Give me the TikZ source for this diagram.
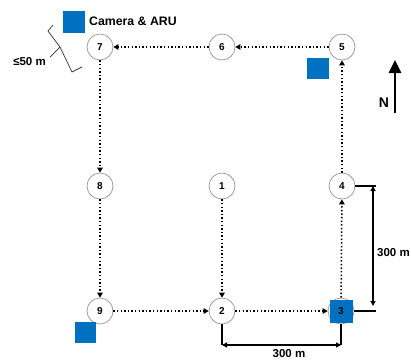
\documentclass[tikz,border=0pt]{standalone}
\usepackage{fontspec}
\setmainfont{Liberation Sans}
\usetikzlibrary{arrows.meta}
\definecolor{camblue}{RGB}{0,112,192}
\definecolor{ringgray}{RGB}{150,150,150}
\tikzset{
  site/.style={circle,draw=ringgray,line width=0.7pt,fill=white,minimum size=26pt,inner sep=0pt,font=\fontsize{10}{12}\selectfont\bfseries},
  walk/.style={line width=1.5pt,dash pattern=on 1.5pt off 2.1pt,-{Triangle[length=5pt,width=5.5pt]}},
  dimline/.style={line width=1.6pt},
  dimarrow/.style={line width=1.6pt,{Triangle[length=5pt,width=5pt]}-{Triangle[length=5pt,width=5pt]}},
  cam/.style={fill=camblue},
  lbl/.style={font=\fontsize{11.5}{13}\selectfont\bfseries,inner sep=0pt}
}
\begin{document}
\begin{tikzpicture}[x=1pt,y=-1pt]
\useasboundingbox (0,0) rectangle (411,360);
% sites
\node[site] (n7) at (100,47) {7};
\node[site] (n6) at (222,47) {6};
\node[site] (n5) at (342,47) {5};
\node[site] (n8) at (100,186) {8};
\node[site] (n1) at (222,186) {1};
\node[site] (n4) at (342,186) {4};
\node[site] (n9) at (100,311) {9};
\node[site] (n2) at (222,311) {2};
\node[site] (n3) at (341,311) {};
% cameras
\fill[cam] (329.5,300) rectangle (352.5,323);
\node[font=\fontsize{10}{12}\selectfont\bfseries] (t3) at (n3) {3};
\fill[cam] (307,58) rectangle (329,79);
\fill[cam] (75,322) rectangle (96,343);
% walks
\draw[walk] (n1) -- (n2);
\draw[walk] (n9) -- (n2);
\draw[walk] (n2) -- (n3);
\draw[walk] (n3) -- (n4);
\draw[walk] (n4) -- (n5);
\draw[walk] (n5) -- (n6);
\draw[walk] (n6) -- (n7);
\draw[walk] (n7) -- (n8);
\draw[walk] (n8) -- (n9);
% dimension lines
\coordinate (a4) at (376,186);
\coordinate (a3) at (376,311);
\coordinate (v4) at (373,186);
\coordinate (v3) at (373,306);
\draw[dimline] (n4.east) -- (a4);
\draw[dimline] (n3.east) -- (a3);
\draw[dimarrow] (v4) -- (v3);
\node[lbl,anchor=west] (d1) at (377,253) {300 m};
\coordinate (b2) at (222,345);
\coordinate (b3) at (341,345);
\draw[dimline] (n2.south) -- (b2);
\draw[dimline] (n3.south) -- (b3);
\draw[dimarrow] (b2) -- (b3);
\node[lbl] (d2) at (289,354) {300 m};
% legend
\fill[cam] (63,11) rectangle (85,33);
\node[font=\fontsize{12.3}{14}\selectfont\bfseries,anchor=west,inner sep=0pt] (leg) at (89,21) {Camera \& ARU};
% brace
\draw[line width=0.7pt,black!80,line join=round] (53,25) -- (48,31) -- (60,47) -- (72,72) -- (82,67);
\draw[line width=0.7pt,black!80] (60,47) -- (50,57);
\node[lbl,anchor=east] (lim) at (46,62) {≤50 m};
% north arrow
\coordinate (s0) at (395,113);
\coordinate (s1) at (395,60);
\draw[line width=2.6pt,-{Triangle[length=13pt,width=12pt]}] (s0) -- (s1);
\node[font=\fontsize{14}{16}\selectfont\bfseries,inner sep=0pt] (north) at (384,103) {N};
\end{tikzpicture}
\end{document}
